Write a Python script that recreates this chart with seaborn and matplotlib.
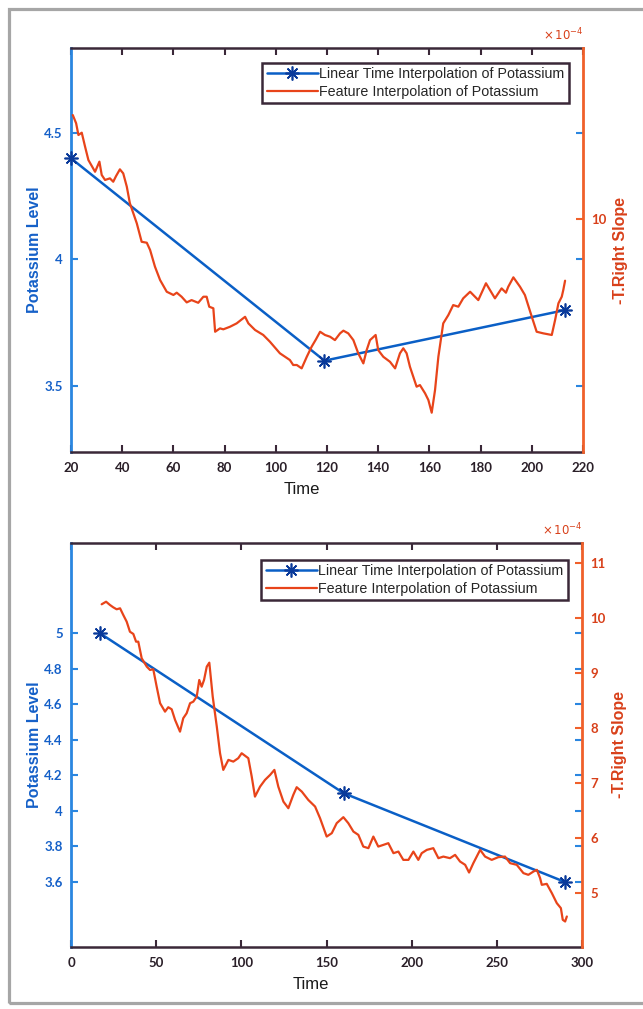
import numpy as np
import pandas as pd
import matplotlib
matplotlib.use("Agg")
import matplotlib.pyplot as plt
import seaborn as sns
from matplotlib.patches import Rectangle
from matplotlib.lines import Line2D

# ---------------- data ----------------
# Top panel
top_blue_time = [20, 119, 213]
top_blue_k = [4.4, 3.6, 3.8]

top_red_time = [20.7, 22.0, 22.9, 24.2, 25.5, 26.8, 29.4, 31.1, 32.0, 33.3, 35.2, 36.5,
                37.6, 39.1, 40.4, 41.8, 43.0, 45.7, 47.6, 49.6, 50.9, 52.8, 54.8, 57.4,
                60.0, 61.3, 63.2, 65.2, 67.1, 69.7, 71.7, 73.0, 74.0, 75.6, 76.3, 78.2,
                79.5, 82.1, 84.7, 88.0, 89.3, 91.9, 95.1, 97.7, 101.6, 105.5, 106.8, 108.2,
                110.1, 112.1, 114.0, 115.7, 117.3, 119.2, 121.2, 123.1, 125.1, 126.4, 128.3,
                130.3, 132.2, 134.2, 135.5, 136.8, 139.0, 140.0, 142.0, 144.6, 146.6, 148.5,
                149.8, 151.1, 152.4, 155.0, 156.3, 158.3, 159.6, 160.9, 162.2, 163.5, 165.4,
                167.4, 169.3, 171.3, 173.2, 175.9, 179.1, 182.1, 185.6, 188.2, 189.9, 190.8,
                192.8, 195.4, 197.3, 200.0, 201.9, 204.5, 207.8, 209.1, 210.4, 211.7, 212.3,
                213.0]
top_red_slope = [10.772, 10.711, 10.624, 10.641, 10.537, 10.438, 10.351, 10.426, 10.327,
                 10.290, 10.302, 10.277, 10.319, 10.369, 10.339, 10.240, 10.117, 9.968,
                 9.831, 9.824, 9.770, 9.646, 9.547, 9.460, 9.436, 9.453, 9.423, 9.381,
                 9.398, 9.378, 9.423, 9.423, 9.349, 9.337, 9.163, 9.188, 9.181, 9.200,
                 9.225, 9.274, 9.225, 9.176, 9.139, 9.089, 9.003, 8.953, 8.916, 8.916,
                 8.891, 8.977, 9.052, 9.107, 9.163, 9.139, 9.126, 9.101, 9.151, 9.171,
                 9.151, 9.101, 9.003, 8.928, 9.027, 9.101, 9.139, 9.027, 8.977, 8.940,
                 8.891, 9.003, 9.040, 9.003, 8.903, 8.755, 8.767, 8.706, 8.656, 8.562,
                 8.730, 8.977, 9.225, 9.287, 9.361, 9.349, 9.411, 9.460, 9.398, 9.523,
                 9.411, 9.485, 9.453, 9.497, 9.567, 9.497, 9.436, 9.274, 9.163, 9.151,
                 9.139, 9.250, 9.374, 9.423, 9.473, 9.542]

# Bottom panel
bot_blue_time = [17, 160, 290]
bot_blue_k = [5.0, 4.1, 3.6]

bot_red_time = [18.0, 20.6, 22.9, 24.8, 26.8, 28.8, 30.7, 32.7, 34.6, 36.6, 38.2, 39.5,
                41.5, 44.5, 46.4, 48.3, 50.3, 52.3, 55.2, 57.1, 59.1, 61.1, 64.0, 65.9,
                67.9, 69.9, 71.8, 73.8, 75.3, 76.7, 78.1, 79.7, 81.2, 83.2, 85.6, 87.5,
                89.4, 92.4, 95.3, 98.2, 100.2, 104.1, 106.1, 108.0, 111.0, 113.9, 116.9,
                119.4, 121.7, 124.7, 127.6, 130.5, 132.5, 135.5, 139.3, 143.3, 146.2,
                150.1, 153.1, 156.0, 159.9, 162.8, 165.8, 168.7, 171.6, 174.6, 177.5,
                180.4, 183.4, 186.3, 189.3, 192.2, 195.1, 198.1, 201.0, 203.9, 205.9,
                208.9, 212.7, 215.7, 218.6, 222.5, 225.5, 228.4, 231.4, 233.7, 236.2,
                240.2, 243.1, 247.0, 250.9, 254.8, 257.8, 261.7, 265.6, 268.5, 271.5,
                273.5, 275.4, 276.4, 279.3, 282.3, 285.2, 287.6, 288.7, 290.1, 291.1]
bot_red_slope = [10.255, 10.302, 10.242, 10.200, 10.164, 10.182, 10.060, 9.938, 9.756,
                 9.715, 9.575, 9.575, 9.273, 9.120, 9.060, 9.073, 8.756, 8.455, 8.302,
                 8.382, 8.345, 8.151, 7.938, 8.182, 8.273, 8.455, 8.484, 8.575, 8.878,
                 8.756, 8.878, 9.120, 9.193, 8.575, 8.029, 7.545, 7.242, 7.424, 7.393,
                 7.455, 7.545, 7.455, 7.120, 6.756, 6.938, 7.060, 7.151, 7.242, 6.938,
                 6.665, 6.545, 6.787, 6.927, 6.847, 6.696, 6.575, 6.364, 6.029, 6.091,
                 6.273, 6.382, 6.273, 6.120, 6.060, 5.847, 5.818, 6.029, 5.847, 5.878,
                 5.909, 5.727, 5.756, 5.605, 5.605, 5.756, 5.605, 5.727, 5.787, 5.818,
                 5.636, 5.665, 5.636, 5.696, 5.575, 5.515, 5.375, 5.545, 5.787, 5.665,
                 5.605, 5.655, 5.665, 5.545, 5.515, 5.364, 5.333, 5.393, 5.424, 5.273,
                 5.151, 5.169, 5.000, 4.818, 4.727, 4.515, 4.484, 4.575]

top_xticks = [20, 40, 60, 80, 100, 120, 140, 160, 180, 200, 220]
top_left_ticks = [3.5, 4, 4.5]
top_right_ticks = [10]
bot_xticks = [0, 50, 100, 150, 200, 250, 300]
bot_left_ticks = [3.6, 3.8, 4, 4.2, 4.4, 4.6, 4.8, 5]
bot_right_ticks = [5, 6, 7, 8, 9, 10, 11]

label_blue = "Linear Time Interpolation of Potassium"
label_red = "Feature Interpolation of Potassium"

# ---------------- style ----------------
sns.set_style("white")
plt.rcParams['font.family'] = ['Liberation Sans', 'DejaVu Sans']

BLUE_LINE = '#0a5fc6'
BLUE_MARK = '#0a3a9a'
BLUE_AX = '#2a86e0'
BLUE_TXT = '#1560c8'
RED_LINE = '#e8441a'
RED_AX = '#f0602a'
RED_TXT = '#d8401a'
DARK = '#3a2838'

W, H = 643, 1009
fig = plt.figure(figsize=(W / 100, H / 100), dpi=100)
fig.patches.append(Rectangle((9 / W, 1 - 1003 / H), (720 - 9) / W, (1003 - 9) / H,
                             transform=fig.transFigure, fill=False,
                             edgecolor='#a6a6a6', lw=2.3))

tick_family = ['Lato', 'DejaVu Sans']
tick_size = 9.5
leg_font = {'family': ['Liberation Sans', 'DejaVu Sans'], 'size': 10.3}


def panel(rect, bt, bk, rt, rs, xlim, xticks, ylim, yticks, y2lim, y2ticks,
          xlab_x, leg_anchor):
    ax = fig.add_axes(rect)
    ax2 = ax.twinx()
    sns.lineplot(x=bt, y=bk, ax=ax, color=BLUE_LINE, lw=1.8, marker=(8, 2, 0),
                 markersize=10, markeredgecolor=BLUE_MARK, markerfacecolor=BLUE_MARK,
                 markeredgewidth=1.2, sort=False, estimator=None, legend=False,
                 clip_on=False, zorder=3)
    sns.lineplot(x=rt, y=rs, ax=ax2, color=RED_LINE, lw=1.6, sort=False,
                 estimator=None, legend=False)
    ax.set_xlim(*xlim)
    ax.set_xticks(xticks)
    ax.set_ylim(*ylim)
    ax.set_yticks(yticks)
    ax.set_yticklabels(['%g' % v for v in yticks])
    ax2.set_ylim(*y2lim)
    ax2.set_yticks(y2ticks)
    ax2.set_yticklabels(['%g' % v for v in y2ticks])

    for s in ['top', 'bottom']:
        ax.spines[s].set_color(DARK)
        ax.spines[s].set_linewidth(1.8)
        ax2.spines[s].set_visible(False)
    ax.spines['left'].set_color(BLUE_AX)
    ax.spines['left'].set_linewidth(2.0)
    ax.spines['right'].set_visible(False)
    ax2.spines['left'].set_visible(False)
    ax2.spines['right'].set_color(RED_AX)
    ax2.spines['right'].set_linewidth(2.0)

    ax.tick_params(axis='x', direction='in', top=True, bottom=True, length=5,
                   width=1.5, color=DARK, labelcolor='#2a1f28', pad=7)
    ax.tick_params(axis='y', direction='in', left=True, right=True, length=5,
                   width=1.5, color=BLUE_AX, labelcolor=BLUE_TXT, pad=6)
    ax2.tick_params(axis='y', direction='in', right=True, length=5, width=1.5,
                    color=RED_AX, labelcolor=RED_TXT, pad=6)
    for lab in ax.get_xticklabels() + ax.get_yticklabels() + ax2.get_yticklabels():
        lab.set_fontfamily(tick_family)
        lab.set_fontweight('bold')
        lab.set_fontsize(tick_size)

    ax.set_xlabel('Time', fontsize=12, color='#1a1a1a')
    ax.xaxis.set_label_coords(xlab_x, -0.075)
    ax.set_ylabel('Potassium Level', fontsize=11.5, fontweight='bold', color=BLUE_TXT)
    ax.yaxis.set_label_coords(-0.056, 0.5)
    ax2.set_ylabel('-T.Right Slope', fontsize=11.5, fontweight='bold', color=RED_TXT)
    ax2.yaxis.set_label_coords(1.058, 0.5)

    ax2.text(1.0, 1.012, r'$\times\,10^{-4}$', transform=ax2.transAxes,
             ha='right', va='bottom', fontsize=8.5, color=RED_TXT)

    handles = [Line2D([], [], color=BLUE_LINE, lw=1.8, marker=(8, 2, 0),
                      markersize=10, markeredgecolor=BLUE_MARK,
                      markerfacecolor=BLUE_MARK, markeredgewidth=1.2),
               Line2D([], [], color=RED_LINE, lw=1.6)]
    leg = ax2.legend(handles, [label_blue, label_red], loc='upper right',
                     bbox_to_anchor=leg_anchor, borderaxespad=0, frameon=True,
                     fancybox=False, prop=leg_font, handlelength=3.6,
                     handletextpad=0.1, labelspacing=0.25, borderpad=0.3)
    fr = leg.get_frame()
    fr.set_edgecolor(DARK)
    fr.set_linewidth(1.8)
    fr.set_alpha(1)
    return ax, ax2


# top panel: axes px 71..583 x 48..452
panel([71 / W, 1 - 452 / H, 512 / W, 404 / H],
      top_blue_time, top_blue_k, top_red_time, top_red_slope,
      (20, 220), top_xticks, (3.239, 4.836), top_left_ticks,
      (8.27, 11.27), top_right_ticks, 0.451, (0.9727, 0.963))

# bottom panel: axes px 71..582 x 543..947
panel([71 / W, 1 - 947 / H, 511 / W, 404 / H],
      bot_blue_time, bot_blue_k, bot_red_time, bot_red_slope,
      (0, 300), bot_xticks, (3.234, 5.508), bot_left_ticks,
      (4.02, 11.37), bot_right_ticks, 0.47, (0.9726, 0.958))

fig.savefig('out.png', dpi=100)
